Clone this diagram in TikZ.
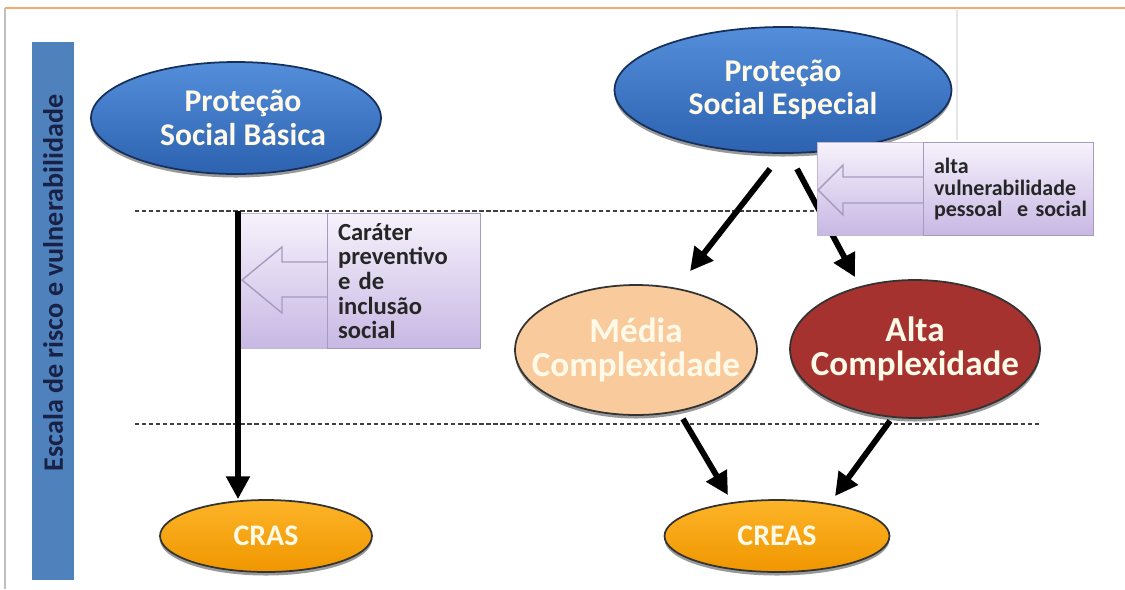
\documentclass[tikz,border=0pt]{standalone}
\usepackage{fontspec}
\setmainfont{Carlito}
\usetikzlibrary{positioning,calc,shapes.geometric,shadows,arrows.meta}

\definecolor{barblue}{RGB}{79,129,189}
\definecolor{navytext}{RGB}{24,34,70}
\definecolor{bluetop}{RGB}{84,142,218}
\definecolor{bluebot}{RGB}{44,98,176}
\definecolor{blueedge}{RGB}{22,48,92}
\definecolor{peach}{RGB}{248,202,156}
\definecolor{darkred}{RGB}{166,50,48}
\definecolor{orangetop}{RGB}{252,180,40}
\definecolor{orangebot}{RGB}{240,150,0}
\definecolor{lilactop}{RGB}{246,242,252}
\definecolor{lilacbot}{RGB}{200,184,228}
\definecolor{lilacedge}{RGB}{165,155,190}
\definecolor{creamtext}{RGB}{255,250,232}
\definecolor{headline}{RGB}{246,168,110}

\tikzset{
  blob/.style={
    ellipse,
    inner sep=0pt,
    align=center,
    font=\bfseries\fontsize{18}{19}\selectfont,
    text=creamtext,
    draw=blueedge, line width=1pt,
    drop shadow={shadow xshift=0pt, shadow yshift=-2pt, opacity=.8}},
  protecao/.style={blob, top color=bluetop, bottom color=bluebot},
  nivel/.style={blob, draw=black!80, inner xsep=-18pt, font=\bfseries\fontsize{20}{19}\selectfont},
  centro/.style={
    blob,
    top color=orangetop, bottom color=orangebot,
    draw=black!80,
    font=\bfseries\fontsize{17}{18}\selectfont,
    minimum height=1.44cm},
  nota/.style={
    rectangle,
    draw=lilacedge, line width=.6pt,
    inner xsep=6pt,
    align=left,
    anchor=north west,
    text=black!85},
  fundo/.style={draw=lilacedge!70, line width=.4pt, top color=lilactop, bottom color=lilacbot},
  seta/.style={draw=lilacedge, line width=.8pt, line join=miter},
  big/.style={-{Triangle[length=13pt,width=13pt]}, line width=3.3pt, black},
  nivelline/.style={black!75, line width=1.5pt, dash pattern=on 2.4pt off 1.6pt},
}

\begin{document}
\begin{tikzpicture}[x=0.02cm, y=-0.02cm]
  \useasboundingbox (0,0) rectangle (1125,589);
  \draw[headline, line width=1.5pt] (5,8) -- (1125,8);
  \draw[black!25, line width=.8pt] (5,8) -- (5,589);
  \draw[black!10, line width=.8pt] (957,10) -- (957,140);

  \node[rectangle, fill=barblue, rotate=90, minimum width=10.76cm, minimum height=0.86cm,
        inner sep=0pt, font=\bfseries\fontsize{16}{17}\selectfont, text=navytext]
        (escala) at (53,311) {\hspace*{1.12cm}Escala de risco e vulnerabilidade};

  \draw[nivelline] (135,211) -- (817,211);
  \draw[nivelline] (135,424) -- (1040,424);

  \node[protecao, minimum width=5.8cm, minimum height=2.24cm] (basica) at (236,118) {\hspace*{8pt}Proteção\\\hspace*{8pt}Social Básica};
  \node[protecao, minimum width=6.74cm, minimum height=2.52cm] (especial) at (783,90) {Proteção\\Social Especial};
  \node[nivel, fill=peach, minimum width=4.84cm, minimum height=2.6cm] (media) at (636,350) {Média\\Complexidade};
  \node[nivel, fill=darkred, minimum width=5cm, minimum height=2.76cm] (alta) at (915,349) {Alta\\Complexidade};
  \node[centro, minimum width=4.24cm] (cras) at (266,536) {CRAS};
  \node[centro, minimum width=4.5cm] (creas) at (777,536) {CREAS};

  \draw[big] ($(especial.south)+(-13,15)$) -- ($(media.north)+(54,-13)$);
  \draw[big] ($(especial.south)+(14,15)$) -- ($(alta.north)+(-60,-2)$);

  % alta vulnerabilidade
  \path[fundo] (817,142) rectangle (1093,235);
  \draw[seta] (923,177) -- (843,177) -- (843,165) -- (818,190) -- (843,215) -- (843,203) -- (923,203);
  \node[nota, text width=2.98cm, minimum height=1.86cm, font=\bfseries\fontsize{12.5}{12.5}\selectfont]
        (vulneravel) at (923,142) {alta\\vulnerabilidade\\\mbox{pessoal \ e social}};

  % carater preventivo
  \path[fundo] (240,213) rectangle (480,348);
  \draw[seta] (327,262) -- (282,262) -- (282,247) -- (242,280) -- (282,313) -- (282,297) -- (327,297);
  \node[nota, text width=2.64cm, minimum height=2.7cm, font=\bfseries\fontsize{14}{14}\selectfont]
        (preventivo) at (327,213) {Caráter\\preventivo\\e de\\inclusão\\social};

  \coordinate (basicafim) at ($(basica.south)+(2,36)$);
  \draw[big] (basicafim) -- (basicafim |- cras.north);

  \draw[big] ($(media.south)+(47,3)$) -- ($(creas.north)+(-49,-4)$);
  \draw[big] ($(alta.south)+(-25,2)$) -- ($(creas.north)+(58,-3)$);
\end{tikzpicture}
\end{document}
